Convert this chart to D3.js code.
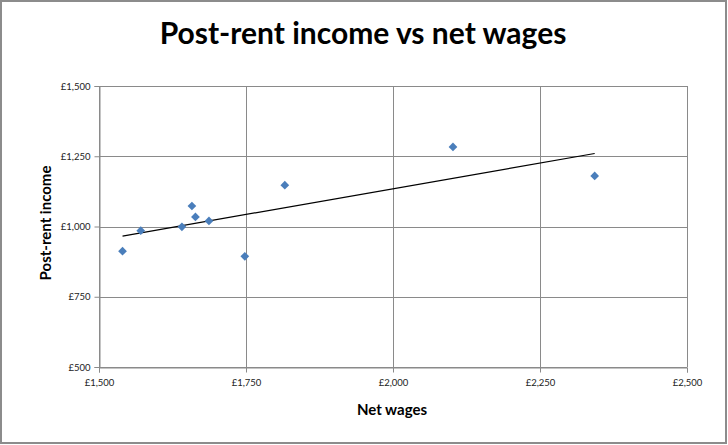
<!DOCTYPE html>
<html>
<head>
<meta charset="utf-8">
<script src="https://cdn.jsdelivr.net/npm/d3@7"></script>
<style>
  html, body { margin: 0; padding: 0; background: #fff; }
  svg { display: block; }
  text { font-family: Lato, "Open Sans", sans-serif; }
</style>
</head>
<body>
<svg id="chart" width="728" height="445"></svg>
<script>
// Data
const netWages = [1540, 1571, 1641, 1658, 1664, 1687, 1748, 1816, 2102, 2343];
const postRentIncome = [912, 985, 999, 1073, 1034, 1020, 894, 1147, 1283, 1180];
const xTicks = [1500, 1750, 2000, 2250, 2500];
const yTicks = [500, 750, 1000, 1250, 1500];
const titleText = "Post-rent income vs net wages";
const xTitle = "Net wages";
const yTitle = "Post-rent income";

const W = 728, H = 445;
const m = { left: 99, right: 728 - 687, top: 86, bottom: 445 - 367 };
const svg = d3.select("#chart");

// outer chart border
svg.append("rect").attr("x", 1).attr("y", 1).attr("width", W - 3).attr("height", H - 3)
  .attr("fill", "#fff").attr("stroke", "#8c8c8c").attr("stroke-width", 2);

const x = d3.scaleLinear().domain([1500, 2500]).range([m.left, W - m.right]);
const y = d3.scaleLinear().domain([500, 1500]).range([H - m.bottom, m.top]);

const fmt = v => "£" + d3.format(",")(v);

// gridlines
const g = svg.append("g");
g.selectAll(".hg").data(yTicks).join("line")
  .attr("x1", x(1500)).attr("x2", x(2500))
  .attr("y1", d => Math.round(y(d)) + 0.5).attr("y2", d => Math.round(y(d)) + 0.5)
  .attr("stroke", "#8a8a8a").attr("stroke-width", 1);
g.selectAll(".vg").data(xTicks).join("line")
  .attr("y1", y(500)).attr("y2", y(1500))
  .attr("x1", d => Math.round(x(d)) + 0.5).attr("x2", d => Math.round(x(d)) + 0.5)
  .attr("stroke", "#8a8a8a").attr("stroke-width", 1);

// axes
const xAxis = d3.axisBottom(x).tickValues(xTicks).tickFormat(fmt).tickSize(5).tickPadding(7);
const yAxis = d3.axisLeft(y).tickValues(yTicks).tickFormat(fmt).tickSize(5).tickPadding(4);
const xg = svg.append("g").attr("transform", `translate(0,${Math.round(y(500)) + 0.5})`).call(xAxis);
const yg = svg.append("g").attr("transform", `translate(${Math.round(x(1500)) + 0.5},0)`).call(yAxis);
[xg, yg].forEach(a => {
  a.select(".domain").attr("stroke", "#8a8a8a");
  a.selectAll(".tick line").attr("stroke", "#8a8a8a");
  a.selectAll(".tick text").attr("fill", "#222").attr("font-size", 9.5)
    .style("font-family", "Lato, 'Open Sans', sans-serif");
});

// trendline (least squares)
const n = netWages.length;
const mx = d3.mean(netWages), my = d3.mean(postRentIncome);
let sxy = 0, sxx = 0;
for (let i = 0; i < n; i++) { sxy += (netWages[i] - mx) * (postRentIncome[i] - my); sxx += (netWages[i] - mx) ** 2; }
const slope = sxy / sxx, icpt = my - slope * mx;
const x0 = d3.min(netWages), x1 = d3.max(netWages);
svg.append("line")
  .attr("x1", x(x0)).attr("y1", y(icpt + slope * x0))
  .attr("x2", x(x1)).attr("y2", y(icpt + slope * x1))
  .attr("stroke", "#000").attr("stroke-width", 1.2);

// points (diamonds)
svg.selectAll(".pt").data(netWages.map((v, i) => [v, postRentIncome[i]])).join("path")
  .attr("d", d3.symbol().type(d3.symbolSquare).size(38))
  .attr("transform", d => `translate(${x(d[0])},${y(d[1])}) rotate(45)`)
  .attr("fill", "#4a7ebb");

// titles
svg.append("text").attr("x", 363).attr("y", 44).attr("text-anchor", "middle")
  .attr("font-size", 30).attr("font-weight", "bold").attr("fill", "#000").text(titleText);
svg.append("text").attr("x", 392).attr("y", 415).attr("text-anchor", "middle")
  .attr("font-size", 15).attr("font-weight", "bold").attr("fill", "#000").text(xTitle);
svg.append("text").attr("transform", "translate(51,223) rotate(-90)").attr("text-anchor", "middle")
  .attr("font-size", 15).attr("font-weight", "bold").attr("fill", "#000").text(yTitle);
</script>
</body>
</html>
